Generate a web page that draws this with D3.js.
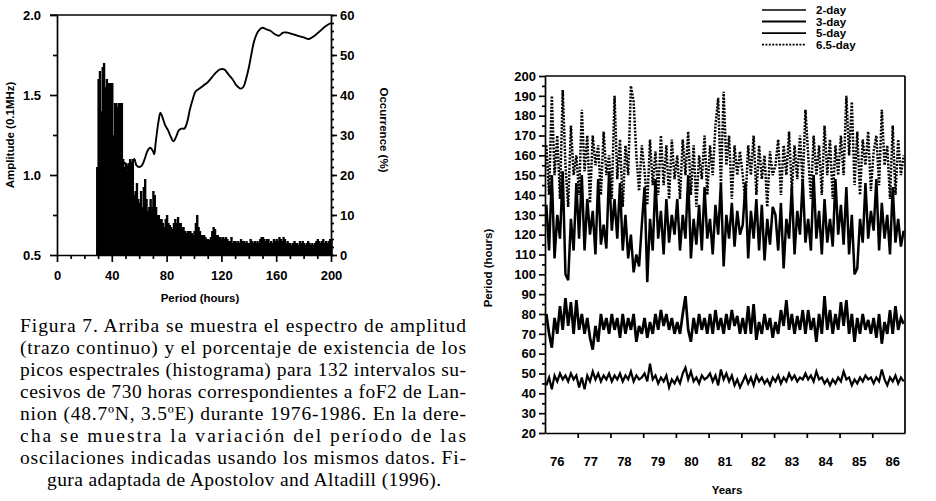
<!DOCTYPE html>
<html>
<head>
<meta charset="utf-8">
<script src="https://cdn.jsdelivr.net/npm/d3@7/dist/d3.min.js"></script>
<style>
  body { margin: 0; background: #fff; }
  svg { display: block; }
  .ax text { font-family: "Liberation Sans", Arial, sans-serif; font-weight: bold; font-size: 13px; fill: #000; }
  .ax path, .ax line { stroke: #000; stroke-width: 1.7; }
  .lbl { font-family: "Liberation Sans", Arial, sans-serif; font-weight: bold; font-size: 11.5px; fill: #000; }
  .cap { font-family: "Liberation Serif", "Times New Roman", serif; font-size: 19.5px; fill: #000; }
</style>
</head>
<body>
<script>
// ---- left panel: occurrence histogram (% per period hour) ----
const histStart = 29;
const histOcc = [
  22, 44, 46, 36, 47, 48, 42, 44, 43, 43, 43, 43, 30, 38, 38, 37, 38, 38, 38, 24,
  22, 23, 21, 23, 24, 22, 24, 15, 16, 18, 14, 13, 16, 12, 17, 19, 14, 11, 12, 14,
  12, 16, 15, 12, 10, 10, 9, 9, 8, 7, 9, 10, 8, 7.5, 7, 6.5, 8, 9, 8, 9.5,
  8, 8, 7, 7, 6, 5.5, 6, 6, 6, 5.5, 5, 6, 8, 10, 7, 6, 5, 5, 5, 4.5,
  4, 4, 3.8, 4.5, 6, 7, 6.5, 5, 5, 4.5, 4.5, 4, 4.5, 4, 4.5, 4, 3.5, 3.5, 4.5, 3,
  3.5, 3.5, 3, 3.5, 3, 4, 3.5, 3.5, 3, 3.5, 3, 3, 4, 3.5, 3, 3.5, 3, 3.5, 3, 4,
  4.5, 4.5, 4, 3.5, 4, 4, 3, 3.5, 3, 4, 3.5, 4, 3.5, 4.5, 4, 3.5, 4.5, 4, 3, 3.5,
  3, 3, 2.5, 3, 3.5, 3, 3, 2.5, 3.5, 3, 3.5, 3, 2.5, 3, 3.5, 3, 2.5, 3, 2.5, 3,
  3.5, 4, 3.5, 3, 3.5, 4, 3, 3.5, 3, 3.5, 4, 4
];
// amplitude spectrum (continuous line)
const ampPeriod = [49, 51, 53, 55, 56.5, 58, 60, 62, 64, 66, 68, 70, 71, 72, 74, 75.5, 77, 79, 81, 83,
  85, 87, 89, 91, 93, 95, 97, 99, 101, 104, 107, 110, 113, 116, 119, 122, 125, 128, 131, 134,
  136, 138, 140, 142, 144, 147, 150, 153, 156, 159, 162, 165, 168, 172, 176, 180, 184, 188, 192, 196, 200];
const ampValue = [1.08, 1.06, 1.00, 1.08, 1.10, 1.06, 1.05, 1.06, 1.10, 1.15, 1.17, 1.15, 1.13, 1.20, 1.33, 1.39, 1.36, 1.31, 1.28, 1.24,
  1.21, 1.24, 1.28, 1.29, 1.29, 1.33, 1.41, 1.47, 1.52, 1.54, 1.56, 1.58, 1.61, 1.64, 1.66, 1.66, 1.63, 1.60, 1.56, 1.54,
  1.55, 1.60, 1.67, 1.76, 1.84, 1.90, 1.92, 1.91, 1.90, 1.88, 1.87, 1.89, 1.89, 1.88, 1.87, 1.86, 1.85, 1.87, 1.90, 1.93, 1.95];
const ampTicks = [0.5, 1.0, 1.5, 2.0];
const periodTicks = [0, 40, 80, 120, 160, 200];
const occTicks = [0, 10, 20, 30, 40, 50, 60];

// ---- right panel: monthly periods 1976-1986 ----
const yearTicks = [76, 77, 78, 79, 80, 81, 82, 83, 84, 85, 86];
const day2 = [
  44, 48, 42, 49, 46, 50, 47, 49, 46, 50, 47, 49,
  43, 48, 42, 49, 46, 51, 47, 50, 46, 49, 47, 50,
  46, 49, 47, 50, 46, 49, 47, 51, 46, 49, 47, 48,
  50, 46, 55, 47, 49, 45, 48, 46, 49, 43, 47, 45,
  48, 45, 50, 53, 47, 51, 46, 48, 45, 49, 47, 48,
  50, 46, 49, 44, 52, 47, 50, 46, 49, 44, 47, 43,
  46, 49, 45, 48, 44, 49, 46, 48, 45, 47, 44, 48,
  46, 49, 45, 48, 46, 50, 47, 49, 46, 48, 47, 50,
  47, 49, 46, 51, 47, 48, 45, 47, 44, 47, 45, 48,
  46, 51, 47, 48, 44, 47, 45, 48, 46, 49, 47, 48,
  45, 48, 46, 52, 47, 44, 48, 46, 49, 45, 48, 46
];
const day3 = [
  80, 70, 63, 78, 70, 84, 72, 88, 74, 86, 70, 87,
  72, 80, 70, 78, 68, 62, 74, 66, 80, 72, 78, 70,
  80, 72, 78, 68, 80, 70, 78, 72, 80, 66, 74, 70,
  78, 68, 76, 70, 80, 72, 82, 74, 80, 72, 78, 70,
  76, 70, 80, 89, 72, 66, 78, 70, 80, 72, 78, 70,
  80, 70, 82, 72, 78, 70, 80, 72, 82, 74, 79, 70,
  78, 70, 84, 70, 85, 67, 76, 70, 80, 72, 78, 68,
  76, 70, 82, 74, 87, 72, 80, 70, 79, 72, 82, 70,
  82, 72, 78, 66, 80, 70, 89, 72, 82, 70, 80, 72,
  86, 74, 87, 70, 80, 66, 78, 70, 80, 72, 77, 70,
  78, 68, 80, 65, 76, 70, 82, 70, 84, 72, 78, 75
];
const day5 = [
  135, 112, 150, 108, 130, 118, 152, 100, 97, 128, 112, 146,
  118, 150, 112, 138, 120, 132, 110, 148, 115, 125, 113, 152,
  122, 138, 118, 146, 112, 130, 108, 120, 101, 110, 104, 125,
  144, 96, 128, 112, 148, 118, 132, 110, 138, 116, 130, 120,
  138, 112, 130, 118, 150, 108, 128, 115, 135, 112, 144, 118,
  128, 110, 135, 120, 146, 104, 130, 118, 136, 114, 132, 120,
  125, 146, 108, 132, 118, 138, 112, 135, 107, 128, 115, 134,
  130, 112, 136, 103, 128, 118, 144, 110, 132, 120, 148, 116,
  128, 112, 150, 118, 132, 110, 138, 116, 128, 114, 148, 120,
  135, 115, 144, 110, 130, 100, 103, 128, 116, 146, 118, 132,
  122, 148, 112, 136, 118, 130, 110, 144, 116, 128, 114, 122
];
const day65 = [
  165, 140, 190, 150, 170, 138, 193, 155, 134, 175, 150, 160,
  140, 183, 152, 170, 136, 170, 155, 165, 140, 172, 150, 160,
  138, 190, 148, 168, 134, 165, 150, 195, 187, 160, 142, 165,
  152, 135, 168, 145, 162, 140, 170, 145, 165, 138, 168, 148,
  160, 138, 168, 150, 172, 140, 165, 134, 160, 148, 170, 140,
  165, 150, 175, 189, 145, 192, 155, 170, 138, 165, 150, 162,
  150, 136, 165, 150, 170, 140, 165, 148, 160, 134, 162, 150,
  155, 168, 140, 165, 150, 172, 142, 165, 148, 170, 145, 183,
  160, 138, 170, 150, 165, 140, 175, 150, 168, 138, 165, 150,
  170, 150, 190, 160, 187, 145, 172, 140, 168, 155, 172, 142,
  162, 170, 145, 183, 155, 165, 138, 175, 140, 168, 150, 160
];
const seriesNames = ["2-day", "3-day", "5-day", "6.5-day"];

const captionLines = [
  "Figura 7.  Arriba se muestra el espectro de amplitud",
  "(trazo continuo) y el porcentaje de existencia de los",
  "picos espectrales (histograma) para 132 intervalos su-",
  "cesivos de 730 horas correspondientes a foF2 de Lan-",
  "nion (48.7ºN, 3.5ºE) durante 1976-1986. En la dere-",
  "cha se muestra la variación del período de las",
  "oscilaciones indicadas usando los mismos datos. Fi-",
  "gura adaptada de Apostolov and Altadill (1996)."
];

const W = 936, H = 501;
const svg = d3.select("body").append("svg").attr("width", W).attr("height", H);

//Helper to draw an axis and keep only ticks
const drawAxis = (g, axis, keepPath) => {
  g.attr("class", "ax").call(axis);
  if (!keepPath) g.select(".domain").remove();
  return g;
};

// ================= LEFT PANEL =================
const xP = d3.scaleLinear().domain([0, 200]).range([57, 331]);
const yAmp = d3.scaleLinear().domain([0.5, 2]).range([255, 15]);
const yOcc = d3.scaleLinear().domain([0, 60]).range([255, 15]);

//Histogram bars
const left = svg.append("g");
left.selectAll("rect.bar")
  .data(histOcc)
  .enter()
  .append("rect")
  .attr("class", "bar")
  .attr("x", (d, i) => xP(histStart + i - 0.5))
  .attr("width", xP(1) - xP(0) + 1)
  .attr("y", d => yOcc(d))
  .attr("height", d => yOcc(0) - yOcc(d))
  .attr("fill", "#000");

//Amplitude line
left.append("path")
  .datum(ampPeriod.map((p, i) => [p, ampValue[i]]))
  .attr("fill", "none")
  .attr("stroke", "#000")
  .attr("stroke-width", 1.9)
  .attr("d", d3.line().x(d => xP(d[0])).y(d => yAmp(d[1])).curve(d3.curveCatmullRom));

//Axes
drawAxis(svg.append("g").attr("transform", "translate(57,0)"),
  d3.axisLeft(yAmp).tickValues(ampTicks).tickSize(7).tickSizeOuter(0).tickPadding(9).tickFormat(d3.format(".1f")), true);
drawAxis(svg.append("g").attr("transform", "translate(57,0)"),
  d3.axisLeft(yAmp).tickValues([0.75, 1.25, 1.75]).tickSize(4).tickFormat(""));
drawAxis(svg.append("g").attr("transform", "translate(0,255)"),
  d3.axisBottom(xP).tickValues(periodTicks).tickSize(7).tickSizeOuter(0).tickPadding(9), true);
drawAxis(svg.append("g").attr("transform", "translate(0,255)"),
  d3.axisBottom(xP).tickValues([10, 20, 30, 50, 60, 70, 90, 100, 110, 130, 140, 150, 170, 180, 190]).tickSize(4).tickFormat(""));
drawAxis(svg.append("g").attr("transform", "translate(331,0)"),
  d3.axisRight(yOcc).tickValues(occTicks).tickSize(6).tickSizeOuter(0).tickPadding(3), true);
drawAxis(svg.append("g").attr("transform", "translate(331,0)"),
  d3.axisRight(yOcc).tickValues(d3.range(0, 61, 2)).tickSize(3).tickFormat(""));
svg.append("line").attr("x1", 50).attr("x2", 331).attr("y1", 15).attr("y2", 15)
  .attr("stroke", "#000").attr("stroke-width", 1.7);

//Axis titles
svg.append("text").attr("class", "lbl").attr("text-anchor", "middle")
  .attr("transform", "translate(14,135) rotate(-90)").text("Amplitude  (0.1MHz)");
svg.append("text").attr("class", "lbl").attr("text-anchor", "middle")
  .attr("transform", "translate(380,130) rotate(90)").text("Occurrence  (%)");
svg.append("text").attr("class", "lbl").attr("text-anchor", "middle")
  .attr("x", 200).attr("y", 302).text("Period  (hours)");

// ================= RIGHT PANEL =================
const xY = d3.scaleLinear().domain([76, 87]).range([545, 905]);
const yR = d3.scaleLinear().domain([20, 200]).range([433, 76]);
const monthX = i => xY(76 + (i + 0.5) / 12);

const styles = [
  { data: day2, width: 2.2, dash: null },
  { data: day3, width: 2.7, dash: null },
  { data: day5, width: 2.5, dash: null },
  { data: day65, width: 2.5, dash: "2,1.4" }
];
const lineGen = d3.line().x((d, i) => monthX(i)).y(d => yR(d));
svg.append("g").selectAll("path")
  .data(styles)
  .enter()
  .append("path")
  .attr("fill", "none")
  .attr("stroke", "#000")
  .attr("stroke-width", d => d.width)
  .attr("stroke-dasharray", d => d.dash)
  .attr("d", d => lineGen(d.data));

drawAxis(svg.append("g").attr("transform", "translate(545,0)"),
  d3.axisLeft(yR).tickValues(d3.range(20, 201, 10)).tickSize(6).tickSizeOuter(0).tickPadding(3), true);
drawAxis(svg.append("g").attr("transform", "translate(545,0)"),
  d3.axisLeft(yR).tickValues(d3.range(25, 200, 10)).tickSize(3).tickFormat(""));
drawAxis(svg.append("g").attr("transform", "translate(0,433)"),
  d3.axisBottom(xY).tickValues(yearTicks.slice(1)).tickSize(5).tickSizeOuter(0).tickFormat(""), true);
drawAxis(svg.append("g").attr("transform", "translate(0,433)"),
  d3.axisBottom(xY).tickValues(yearTicks.map((y, i) => y + 0.36 + i * 0.025)).tickSize(0).tickPadding(24).tickFormat(d => Math.floor(d)));
svg.append("line").attr("x1", 545).attr("x2", 905).attr("y1", 76).attr("y2", 76)
  .attr("stroke", "#000").attr("stroke-width", 1.7);
svg.append("line").attr("x1", 905).attr("x2", 905).attr("y1", 76).attr("y2", 433)
  .attr("stroke", "#000").attr("stroke-width", 1.7);

svg.append("text").attr("class", "lbl").attr("text-anchor", "middle")
  .attr("transform", "translate(492,268) rotate(-90)").text("Period  (hours)");
svg.append("text").attr("class", "lbl").attr("text-anchor", "middle")
  .attr("x", 727).attr("y", 494).text("Years");

//Legend
const legend = svg.append("g").selectAll("g")
  .data(seriesNames)
  .enter()
  .append("g")
  .attr("transform", (d, i) => `translate(762,${10 + i * 11.5})`);
legend.append("line")
  .attr("x1", 0).attr("x2", 44)
  .attr("stroke", "#000")
  .attr("stroke-width", (d, i) => styles[i].width * 0.7)
  .attr("stroke-dasharray", (d, i) => styles[i].dash);
legend.append("text").attr("class", "lbl")
  .attr("x", 54).attr("y", 4).text(d => d);

// ================= CAPTION =================
const last = captionLines.length - 1;
svg.append("g").selectAll("text")
  .data(captionLines)
  .enter()
  .append("text")
  .attr("class", "cap")
  .attr("x", (d, i) => i < last ? 20 : 244)
  .attr("y", (d, i) => 332 + i * 22)
  .attr("text-anchor", (d, i) => i < last ? "start" : "middle")
  .attr("textLength", (d, i) => i < last ? 446 : 394)
  .attr("lengthAdjust", "spacing")
  .text(d => d);
</script>
</body>
</html>
